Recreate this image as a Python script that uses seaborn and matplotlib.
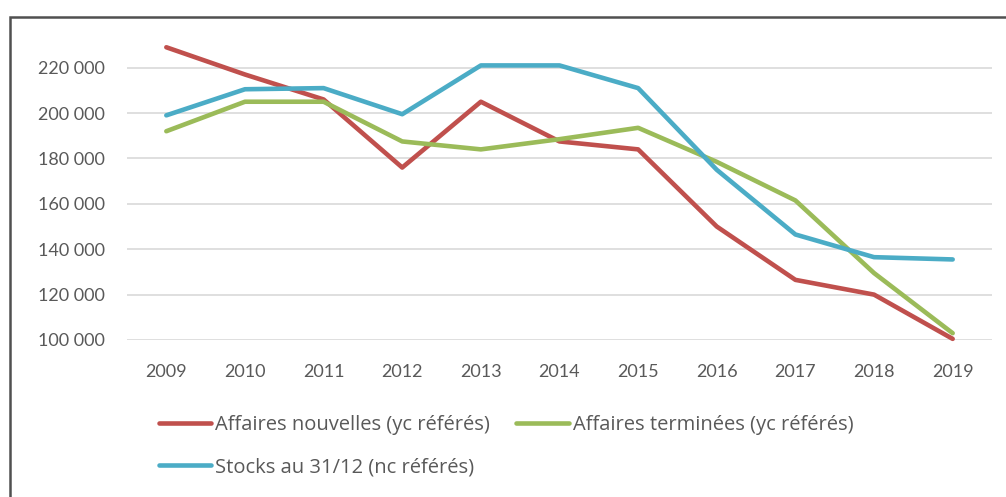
import matplotlib
matplotlib.use("Agg")
import matplotlib.pyplot as plt
import matplotlib.ticker as mticker
from matplotlib.patches import Rectangle
import seaborn as sns
import pandas as pd

# Données
annees = [2009, 2010, 2011, 2012, 2013, 2014, 2015, 2016, 2017, 2018, 2019]
affaires_nouvelles = [229000, 217000, 206000, 176000, 205000, 187500, 184000, 150000, 126500, 120000, 100500]
affaires_terminees = [192000, 205000, 205000, 187500, 184000, 188500, 193500, 178500, 161500, 129500, 103000]
stocks = [199000, 210500, 211000, 199500, 221000, 221000, 211000, 175000, 146500, 136500, 135500]

noms = ["Affaires nouvelles (yc référés)", "Affaires terminées (yc référés)", "Stocks au 31/12 (nc référés)"]
couleurs = {noms[0]: "#C0504D", noms[1]: "#9BBB59", noms[2]: "#4BACC6"}

df = pd.DataFrame({"annee": annees, noms[0]: affaires_nouvelles, noms[1]: affaires_terminees, noms[2]: stocks})
df_long = df.melt(id_vars="annee", var_name="serie", value_name="valeur")

sns.set_style("white")
plt.rcParams['font.family'] = ['Lato', 'DejaVu Sans']

fig = plt.figure(figsize=(10.06, 4.97), dpi=100)
ax = fig.add_axes([127/1006, 1-340/497, (992-127)/1006, (340-45)/497])

sns.lineplot(data=df_long, x="annee", y="valeur", hue="serie", palette=couleurs,
             linewidth=3.3, ax=ax, legend=False, clip_on=False)

ax.set_xlim(2008.5, 2019.5)
ax.set_ylim(100000, 230000)
ax.set_xticks(annees)
ax.set_yticks(range(100000, 230000, 20000))
ax.yaxis.set_major_formatter(mticker.FuncFormatter(lambda v, p: f"{int(v):,}".replace(",", " ")))
ax.grid(axis="y", color="#D9D9D9", linewidth=1.2)
ax.set_axisbelow(True)
for s in ax.spines.values():
    s.set_visible(False)
ax.tick_params(axis="y", length=0, pad=16, labelsize=13, labelcolor="#595959")
ax.tick_params(axis="x", length=0, pad=17, labelsize=13, labelcolor="#595959")
ax.set_xlabel("")
ax.set_ylabel("")

# légende sur deux lignes (ordre : rouge, bleu, vert pour remplissage par colonne)
ordre = [noms[0], noms[2], noms[1]]
handles = [plt.Line2D([], [], color=couleurs[n], linewidth=3.3) for n in ordre]
fig.legend(handles, ordre, loc="upper left", bbox_to_anchor=(159/1006, 1-415/497),
           ncol=2, frameon=False, prop={"family": ["Open Sans", "DejaVu Sans"], "size": 14.5},
           labelcolor="#595959", handlelength=2.6, handletextpad=0.2, columnspacing=1.3,
           labelspacing=1.1, borderpad=0, borderaxespad=0)

# cadre
fig.patches.append(Rectangle((10/1006, -0.1), 1.1, 1-17/497+0.1, transform=fig.transFigure,
                             fill=False, edgecolor="#505050", linewidth=1.8))

fig.savefig("out.png", dpi=100)
